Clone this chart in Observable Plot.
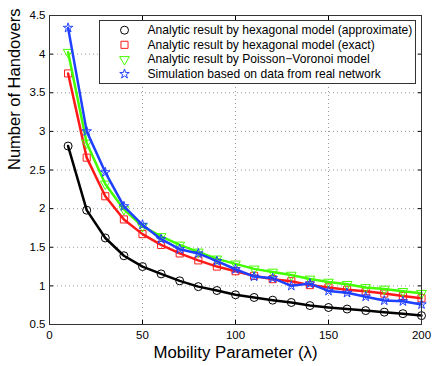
<!DOCTYPE html>
<html>
<head>
<meta charset="utf-8">
<script src="https://cdn.jsdelivr.net/npm/d3@7"></script>
<script src="https://cdn.jsdelivr.net/npm/@observablehq/plot@0.6"></script>
<style>
  html, body { margin: 0; padding: 0; background: white; }
</style>
</head>
<body>
<div id="chart"></div>
<script>
const lambda = [10, 20, 30, 40, 50, 60, 70, 80, 90, 100, 110, 120, 130, 140, 150, 160, 170, 180, 190, 200];
const hexApprox = [2.81, 1.98, 1.62, 1.39, 1.25, 1.155, 1.065, 0.99, 0.94, 0.885, 0.85, 0.815, 0.785, 0.745, 0.72, 0.70, 0.68, 0.66, 0.64, 0.615];
const hexExact = [3.75, 2.66, 2.16, 1.86, 1.67, 1.53, 1.42, 1.33, 1.25, 1.19, 1.13, 1.087, 1.06, 1.01, 0.98, 0.95, 0.93, 0.90, 0.87, 0.84];
const poisson = [4.025, 2.85, 2.32, 1.99, 1.77, 1.64, 1.53, 1.44, 1.35, 1.285, 1.22, 1.18, 1.14, 1.09, 1.05, 1.02, 0.98, 0.96, 0.93, 0.905];
const simulation = [4.34, 3.0, 2.47, 2.03, 1.79, 1.605, 1.475, 1.42, 1.32, 1.215, 1.12, 1.10, 1.0, 1.03, 0.935, 0.91, 0.86, 0.81, 0.80, 0.76];

const seriesNames = [
  "Analytic result by hexagonal model (approximate)",
  "Analytic result by hexagonal model (exact)",
  "Analytic result by Poisson\u2212Voronoi model",
  "Simulation based on data from real network"
];
const xTicks = [0, 50, 100, 150, 200];
const yTicks = [0.5, 1, 1.5, 2, 2.5, 3, 3.5, 4, 4.5];

const styles = [
  {color: "black", symbol: "circle", rotate: 0, r: 4},
  {color: "#ff1a1a", symbol: "square", rotate: 0, r: 4},
  {color: "#44ff00", symbol: "triangle", rotate: 180, r: 3.6},
  {color: "#2040ff", symbol: "star", rotate: 0, r: 3}
];
const valuesList = [hexApprox, hexExact, poisson, simulation];

const series = valuesList.map((vals, i) => ({
  name: seriesNames[i],
  ...styles[i],
  data: lambda.map((l, j) => ({x: l, y: vals[j]}))
}));

const fmt = d => String(d);

const marks = [
  Plot.gridX({ticks: xTicks, stroke: "#999", strokeOpacity: 1, strokeDasharray: "1,3"}),
  Plot.gridY({ticks: yTicks, stroke: "#999", strokeOpacity: 1, strokeDasharray: "1,3"}),
];

for (const s of series) {
  marks.push(Plot.line(s.data, {x: "x", y: "y", stroke: s.color, strokeWidth: 2.5}));
  marks.push(Plot.dot(s.data, {x: "x", y: "y", stroke: s.color, symbol: s.symbol, r: s.r, rotate: s.rotate, strokeWidth: 1, fill: "none"}));
}

marks.push(
  Plot.axisX({ticks: xTicks, anchor: "bottom", tickSize: -4, tickPadding: 10, label: null, fontSize: 11.5, tickFormat: fmt}),
  Plot.axisX({ticks: xTicks, anchor: "top", tickSize: -4, tickFormat: () => "", label: null}),
  Plot.axisY({ticks: yTicks, anchor: "left", tickSize: -4, tickPadding: 8, label: null, fontSize: 11.5, tickFormat: fmt}),
  Plot.axisY({ticks: yTicks, anchor: "right", tickSize: -4, tickFormat: () => "", label: null}),
  Plot.frame({stroke: "#333"}),
  Plot.text(["Mobility Parameter (\u03bb)"], {frameAnchor: "bottom", dy: 28, fontSize: 16.8, lineAnchor: "middle"}),
  Plot.text(["Number of Handovers"], {frameAnchor: "left", dx: -35, rotate: -90, fontSize: 16.5, lineAnchor: "middle"}),
  Plot.frame({insetLeft: 50, insetRight: 6, insetTop: 5, insetBottom: 241, fill: "white", stroke: "#333"})
);

series.forEach((s, i) => {
  const dy = 14.7 + i * 14.6;
  marks.push(Plot.dot([0], {frameAnchor: "top-left", dx: 75, dy, symbol: s.symbol, stroke: s.color, r: s.r, rotate: s.rotate, strokeWidth: 1, fill: "none"}));
  marks.push(Plot.text([s.name], {frameAnchor: "top-left", dx: 98, dy, textAnchor: "start", lineAnchor: "middle", fontSize: 12.1, fill: "black"}));
});

const chart = Plot.plot({
  width: 436,
  height: 366,
  marginLeft: 49,
  marginRight: 15,
  marginTop: 15,
  marginBottom: 42,
  style: {fontFamily: "'Liberation Sans', Arial, sans-serif", fontSize: "11px", background: "white", color: "black"},
  x: {domain: [0, 200]},
  y: {domain: [0.5, 4.5]},
  marks
});
document.getElementById("chart").appendChild(chart);
</script>
</body>
</html>
